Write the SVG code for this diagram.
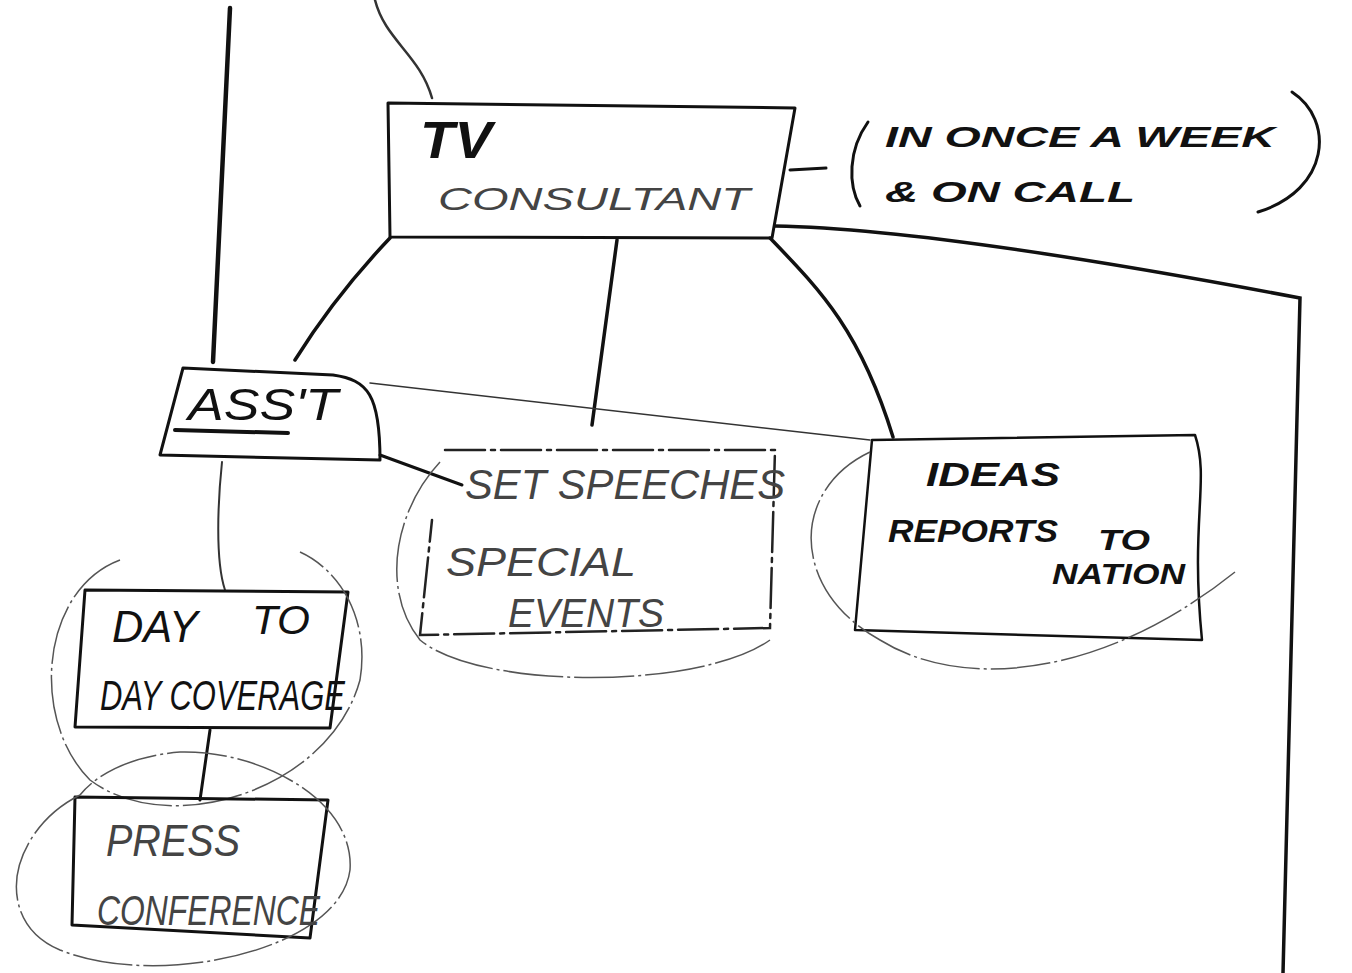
<svg xmlns="http://www.w3.org/2000/svg" width="1352" height="973" viewBox="0 0 1352 973">
<style>
.bg{fill:#ffffff}
.box{fill:none;stroke:#111;stroke-width:3;stroke-linecap:round;stroke-linejoin:round}
.dbox{fill:none;stroke:#222;stroke-width:2.5;stroke-dasharray:40 6 4 6;stroke-linecap:round}
.ln{fill:none;stroke:#111;stroke-width:3.5;stroke-linecap:round}
.thin{fill:none;stroke:#333;stroke-width:1.5;stroke-linecap:round}
.ell{fill:none;stroke:#555;stroke-width:1.5;stroke-dasharray:60 4 3 4}
.t{font-family:"Liberation Sans",Arial,sans-serif;fill:#111}
.hand{font-style:italic}
.light{fill:#444;font-weight:normal}
.bold{font-weight:bold;font-style:italic}
</style>
<rect class="bg" x="0" y="0" width="1352" height="973"/>
<g id="connectors">
  <path class="ln" style="stroke-width:4.5" d="M230,8 L213,362"/>
  <path class="thin" style="stroke-width:2.5" d="M375,0 C385,40 420,55 432,98"/>
  <path class="ln" d="M390,238 C350,280 320,320 295,360"/>
  <path class="ln" d="M617,240 L592,425"/>
  <path class="ln" d="M770,238 C820,290 860,330 893,437"/>
  <path class="ln" d="M775,226 C900,228 1100,260 1300,298 L1283,973"/>
  <path class="thin" d="M370,383 L870,440"/>
  <path class="ln" style="stroke-width:3" d="M380,455 L462,485"/>
  <path class="thin" style="stroke-width:2" d="M222,462 C218,500 215,560 225,590"/>
  <path class="ln" style="stroke-width:3" d="M210,730 L200,800"/>
  <path class="ln" style="stroke-width:3" d="M790,170 L826,168"/>
</g>
<g id="tv-consultant">
  <path class="box" d="M388,103 L795,108 L772,238 L390,237 Z"/>
  <text class="t hand" x="420" y="158" font-size="52" font-weight="bold" textLength="72" lengthAdjust="spacingAndGlyphs">TV</text>
  <text class="t hand light" x="438" y="210" font-size="32" textLength="312" lengthAdjust="spacingAndGlyphs">CONSULTANT</text>
</g>
<g id="note">
  <path class="ln" style="stroke-width:3" d="M868,122 C848,150 848,185 860,206"/>
  <path class="ln" style="stroke-width:3" d="M1292,92 C1335,120 1330,190 1258,212"/>
  <text class="t bold" x="885" y="147" font-size="30" textLength="390" lengthAdjust="spacingAndGlyphs">IN ONCE A WEEK</text>
  <text class="t bold" x="885" y="202" font-size="30" textLength="250" lengthAdjust="spacingAndGlyphs">&amp; ON CALL</text>
</g>
<g id="asst">
  <path class="box" d="M183,368 L333,375 C368,380 380,395 380,460 L160,455 Z"/>
  <text class="t hand" x="188" y="420" font-size="44" textLength="150" lengthAdjust="spacingAndGlyphs">ASS'T</text>
  <path class="ln" style="stroke-width:4" d="M175,430 L288,433"/>
</g>
<g id="set-speeches">
  <path class="dbox" d="M445,450 L775,450 L770,628 L420,635 L432,520"/>
  <path class="ell" d="M440,462 C395,510 380,590 420,640 C480,690 700,690 770,640"/>
  <text class="t hand light" x="465" y="499" font-size="42" textLength="320" lengthAdjust="spacingAndGlyphs">SET SPEECHES</text>
  <text class="t hand light" x="446" y="576" font-size="40" textLength="190" lengthAdjust="spacingAndGlyphs">SPECIAL</text>
  <text class="t hand light" x="508" y="627" font-size="40" textLength="156" lengthAdjust="spacingAndGlyphs">EVENTS</text>
</g>
<g id="ideas">
  <path class="box" style="stroke-width:2.5" d="M872,440 L1195,435 C1210,480 1190,520 1202,640 L855,630 Z"/>
  <path class="ell" d="M870,452 C790,490 790,590 880,640 C960,690 1100,680 1235,572"/>
  <text class="t bold" x="926" y="486" font-size="34" textLength="134" lengthAdjust="spacingAndGlyphs">IDEAS</text>
  <text class="t bold" x="888" y="542" font-size="32" textLength="170" lengthAdjust="spacingAndGlyphs">REPORTS</text>
  <text class="t bold" x="1098" y="550" font-size="30" textLength="52" lengthAdjust="spacingAndGlyphs">TO</text>
  <text class="t bold" x="1052" y="584" font-size="30" textLength="133" lengthAdjust="spacingAndGlyphs">NATION</text>
</g>
<g id="day-to-day">
  <path class="box" d="M85,590 L348,592 L330,728 L75,727 Z"/>
  <path class="ell" d="M120,560 C40,590 30,720 90,780 C170,840 330,790 360,680 C370,620 340,570 300,552"/>
  <text class="t hand" x="112" y="642" font-size="44" textLength="86" lengthAdjust="spacingAndGlyphs">DAY</text>
  <text class="t hand" x="252" y="634" font-size="40" textLength="58" lengthAdjust="spacingAndGlyphs">TO</text>
  <text class="t hand" x="100" y="710" font-size="42" textLength="245" lengthAdjust="spacingAndGlyphs">DAY COVERAGE</text>
</g>
<g id="press-conference">
  <path class="box" d="M75,797 L328,800 L310,938 L72,925 Z"/>
  <path class="ell" d="M80,795 C10,830 -10,920 60,950 C160,990 340,950 350,870 C355,800 260,750 180,752 C140,755 100,770 80,795"/>
  <text class="t hand light" x="106" y="856" font-size="44" textLength="134" lengthAdjust="spacingAndGlyphs">PRESS</text>
  <text class="t hand light" x="97" y="925" font-size="42" textLength="223" lengthAdjust="spacingAndGlyphs">CONFERENCE</text>
</g>
</svg>
